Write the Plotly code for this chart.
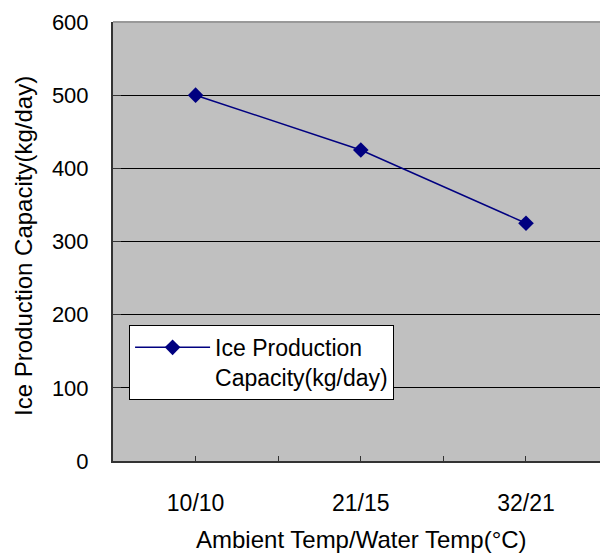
import plotly.graph_objects as go

categories = ["10/10", "21/15", "32/21"]
capacity = [500, 425, 325]
series_name = "Ice Production<br>Capacity(kg/day)"
y_ticks = [0, 100, 200, 300, 400, 500, 600]
x_title = "Ambient Temp/Water Temp(°C)"
y_title = "Ice Production Capacity(kg/day)"

xpos = list(range(len(categories)))
FONT = "Liberation Sans, Arial"

fig = go.Figure()
fig.add_trace(go.Scatter(
    x=xpos, y=capacity, mode="lines+markers", name=series_name,
    line=dict(color="#000080", width=1.5),
    marker=dict(symbol="diamond", size=12, color="#000080"),
))

fig.update_layout(
    width=600, height=560,
    margin=dict(l=113, r=0, t=22, b=99),
    paper_bgcolor="white", plot_bgcolor="#C0C0C0",
    font=dict(family=FONT, size=23, color="black"),
    showlegend=True,
    legend=dict(x=0.033, y=0.31, xanchor="left", yanchor="top",
                bgcolor="white", bordercolor="black", borderwidth=1,
                valign="top", itemwidth=75,
                font=dict(family=FONT, size=23, color="black")),
)
fig.update_xaxes(
    range=[-0.5, 2.448], automargin=False,
    tickvals=[0, 0.5, 1, 1.5, 2],
    ticktext=[categories[0], "", categories[1], "", categories[2]],
    tickfont=dict(family=FONT, size=23, color="black"),
    ticks="inside", ticklen=5, tickcolor="#333", tickwidth=1,
    ticklabelstandoff=20,
    showgrid=False, zeroline=False,
    showline=True, linecolor="#333", linewidth=2,
)
fig.update_yaxes(
    range=[0, 600], tickvals=y_ticks, automargin=False,
    tickfont=dict(family=FONT, size=22, color="black"),
    ticks="inside", ticklen=8, tickcolor="#333",
    ticklabelstandoff=18,
    showgrid=True, gridcolor="black", gridwidth=1,
    zeroline=False, showline=True, linecolor="#333", linewidth=2,
)
fig.add_shape(type="line", xref="paper", yref="paper", x0=0, x1=1, y0=1, y1=1,
              line=dict(color="#999", width=2))
fig.add_annotation(text=x_title, xref="paper", yref="paper",
                   x=(361 - 113) / 487, y=-(539 - 461) / 439,
                   xanchor="center", yanchor="middle", showarrow=False,
                   font=dict(family=FONT, size=24, color="black"))
fig.add_annotation(text=y_title, xref="paper", yref="paper",
                   x=-(113 - 24) / 487, y=(461 - 246) / 439,
                   xanchor="center", yanchor="middle", textangle=-90,
                   showarrow=False,
                   font=dict(family=FONT, size=24, color="black"))

fig.write_html("out.html", config={"displayModeBar": False},
               post_script="document.body.style.margin='0';document.body.style.overflow='hidden';")
